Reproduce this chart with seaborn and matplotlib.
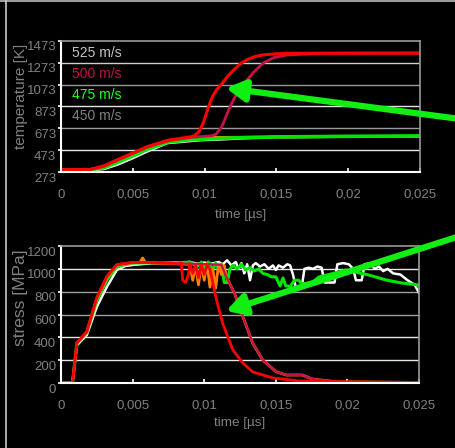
import matplotlib
matplotlib.use("Agg")
import matplotlib.pyplot as plt
import matplotlib.transforms as mtransforms
from matplotlib.patches import FancyArrowPatch
import seaborn as sns
from matplotlib.lines import Line2D

# ---------------- data ----------------
x_ticks = [0, 0.005, 0.01, 0.015, 0.02, 0.025]
x_tick_labels = ["0", "0,005", "0,01", "0,015", "0,02", "0,025"]
temp_ticks = [273, 473, 673, 873, 1073, 1273, 1473]
stress_ticks = [0, 200, 400, 600, 800, 1000, 1200]
legend_labels = ["525 m/s", "500 m/s", "475 m/s", "450 m/s"]
legend_colors = ["#c4c4c4", "#c01048", "#22ff22", "#808080"]

# temperature curves
temp_white_t = [0, 0.0022, 0.003, 0.004, 0.005, 0.006, 0.0074, 0.0097, 0.011, 0.013, 0.015, 0.02, 0.025]
temp_white_v = [292, 292, 302, 345, 401, 462, 539, 566, 572, 585, 594, 598, 600]
temp_green_t = [0, 0.002, 0.003, 0.004, 0.005, 0.006, 0.0075, 0.009, 0.01, 0.012, 0.015, 0.02, 0.025]
temp_green_v = [293, 293, 312, 365, 420, 480, 548, 568, 575, 585, 594, 600, 603]
temp_orange_t = [0, 0.002, 0.003, 0.004, 0.005, 0.006, 0.0075, 0.009, 0.011, 0.015, 0.02, 0.025]
temp_orange_v = [293, 294, 322, 380, 438, 495, 558, 585, 590, 594, 598, 600]
temp_crimson_t = [0, 0.002, 0.003, 0.004, 0.005, 0.006, 0.0075, 0.009, 0.0105, 0.0108, 0.0112,
                  0.01177, 0.01223, 0.0127, 0.0134, 0.01407, 0.0148, 0.01574, 0.01804, 0.025]
temp_crimson_v = [293, 294, 325, 385, 442, 500, 560, 590, 605, 620, 688,
                  871, 990, 1075, 1185, 1271, 1320, 1345, 1360, 1362]
temp_red_t = [0, 0.002, 0.003, 0.004, 0.005, 0.006, 0.0075, 0.009, 0.0093, 0.0096, 0.0099, 0.0102,
              0.0105, 0.0108, 0.0112, 0.0116, 0.012, 0.0125, 0.013, 0.0135, 0.014, 0.015, 0.016,
              0.02, 0.025]
temp_red_v = [293, 295, 330, 390, 447, 505, 566, 594, 605, 640, 720, 840,
              950, 1020, 1080, 1150, 1205, 1265, 1305, 1330, 1345, 1356, 1360,
              1362, 1362]

# stress curves
stress_white_t = [0, 0.0008, 0.00111, 0.0018, 0.0025, 0.0032, 0.0039, 0.0045, 0.005, 0.006, 0.007,
                  0.008, 0.0085, 0.009, 0.0095, 0.01, 0.0105, 0.011, 0.0113, 0.0116, 0.0119, 0.0122,
                  0.0124, 0.0126, 0.0128, 0.013, 0.0132, 0.0134, 0.0136, 0.0139, 0.0142, 0.0145,
                  0.0148, 0.015, 0.0152, 0.0155, 0.0158, 0.016, 0.0162, 0.0164, 0.0168, 0.017,
                  0.0173, 0.0176, 0.0179, 0.0182, 0.0184, 0.0191, 0.0193, 0.0197, 0.0201, 0.0204,
                  0.0206, 0.021, 0.0212, 0.0216, 0.0219, 0.0222, 0.0225, 0.0228, 0.0232, 0.0237,
                  0.0242, 0.0247, 0.025]
stress_white_v = [0, 0, 330, 420, 666, 841, 990, 1025, 1034, 1045, 1050,
                  1055, 1050, 1060, 1045, 1055, 1045, 1060, 1040, 1075, 1030, 1060,
                  1000, 1050, 960, 1040, 900, 1030, 1050, 1020, 1040, 1000,
                  1030, 990, 1030, 1010, 1040, 1030, 950, 830, 830, 1000,
                  1010, 1000, 1020, 1010, 880, 880, 1040, 1050, 1040, 1000,
                  900, 900, 1040, 1050, 1000, 1020, 980, 1000, 960, 950,
                  900, 860, 790]
stress_green_t = [0, 0.0008, 0.00111, 0.0018, 0.0025, 0.0032, 0.0039, 0.005, 0.006, 0.007, 0.008,
                  0.009, 0.0095, 0.0098, 0.01, 0.0103, 0.0106, 0.0108, 0.011, 0.0112, 0.0114,
                  0.0116, 0.0118, 0.012, 0.0123, 0.0126, 0.0129, 0.0132, 0.0135, 0.0138, 0.0141,
                  0.0144, 0.0147, 0.015, 0.0153, 0.0155, 0.0157, 0.016, 0.0163, 0.0166, 0.0168,
                  0.0175, 0.018, 0.019, 0.0199, 0.0215, 0.0227, 0.0238, 0.025]
stress_green_v = [0, 0, 345, 440, 720, 900, 1020, 1050, 1052, 1048, 1050,
                  1060, 1020, 1060, 1000, 1060, 990, 1050, 1000, 1040, 880,
                  880, 1000, 1030, 1000, 1040, 990, 1010, 980, 1000, 960,
                  950, 930, 930, 850, 920, 850, 845, 900, 900, 870,
                  876, 928, 960, 990, 946, 902, 876, 858]
stress_orange_t = [0, 0.0008, 0.00111, 0.0018, 0.0025, 0.0032, 0.0039, 0.005, 0.0055, 0.0057, 0.0059,
                   0.007, 0.008, 0.009, 0.0092, 0.0094, 0.0096, 0.0098, 0.01, 0.0102, 0.0104, 0.0106,
                   0.0108, 0.011, 0.0112, 0.0114, 0.01154, 0.01212, 0.0127, 0.01339, 0.01409,
                   0.01502, 0.01572, 0.01685, 0.01755, 0.01922, 0.025]
stress_orange_v = [0, 0, 350, 445, 740, 925, 1030, 1054, 1055, 1095, 1055,
                   1050, 1045, 1040, 900, 1030, 860, 1040, 900, 1050, 840, 1000,
                   830, 1040, 950, 1030, 931, 785, 581, 347, 201,
                   99, 70, 70, 35, 11, 5]
stress_crimson_t = [0, 0.0008, 0.00111, 0.0018, 0.0025, 0.0032, 0.0039, 0.005, 0.007, 0.009, 0.0105,
                    0.0112, 0.01154, 0.01212, 0.0127, 0.01339, 0.01409, 0.01502, 0.01572, 0.01685,
                    0.01755, 0.01922, 0.025]
stress_crimson_v = [0, 0, 350, 447, 745, 929, 1034, 1054, 1050, 1045, 1040,
                    1035, 931, 785, 581, 347, 201, 99, 70, 70,
                    35, 11, 5]
stress_red_t = [0, 0.0008, 0.00111, 0.0018, 0.0025, 0.0032, 0.0039, 0.005, 0.006, 0.007, 0.008,
                0.0082, 0.0084, 0.0085, 0.0087, 0.0089, 0.009, 0.0092, 0.0094, 0.0096, 0.0098,
                0.01, 0.0102, 0.0104, 0.0106, 0.0108, 0.011, 0.0113, 0.0116, 0.012, 0.0127,
                0.0134, 0.0148, 0.0166, 0.02, 0.025]
stress_red_v = [0, 0, 352, 450, 750, 935, 1038, 1056, 1055, 1050, 1048,
                1040, 1050, 900, 880, 950, 1040, 960, 1030, 920, 1040,
                950, 1030, 1000, 880, 760, 660, 520, 420, 290, 175,
                96, 44, 18, 8, 5]

# ---------------- style ----------------
sns.set_theme(style="dark")
plt.rcParams["font.family"] = ["Liberation Sans", "DejaVu Sans"]
GREY = "#808080"

fig = plt.figure(figsize=(4.55, 4.48), dpi=100, facecolor="black")
ax1 = fig.add_axes([61 / 455, 1 - 172 / 448, (420 - 61) / 455, (172 - 41) / 448])
ax2 = fig.add_axes([61 / 455, 1 - 383 / 448, (419 - 61) / 455, (383 - 246) / 448])


def style_axes(ax, yticks, grid_colors, ylabel, ylabel_size, ylabel_y, xlabel_y):
    ax.set_facecolor("black")
    ax.set_xlim(0, 0.025)
    ax.set_ylim(yticks[0], yticks[-1])
    for yv, c in zip(yticks[1:-1], grid_colors):
        ax.axhline(yv, color=c, lw=1.0, zorder=0.5)
    ax.set_xticks(x_ticks)
    ax.set_xticklabels(x_tick_labels)
    ax.set_yticks(yticks)
    ax.set_yticklabels([str(v) for v in yticks])
    ax.tick_params(axis="x", direction="in", length=3, width=1.2, color="white",
                   labelcolor=GREY, labelsize=9.5, pad=12, bottom=True)
    ax.tick_params(axis="y", direction="out", length=2, width=1.2, color="white",
                   labelcolor=GREY, labelsize=9.5, pad=1.5, left=True)
    offset = mtransforms.ScaledTranslation(0, -5 / 100, fig.dpi_scale_trans)
    for lab in ax.get_yticklabels():
        lab.set_transform(lab.get_transform() + offset)
    for s in ["left", "bottom"]:
        ax.spines[s].set_color("white")
        ax.spines[s].set_linewidth(1.5)
    for s in ["top", "right"]:
        ax.spines[s].set_color("#999999")
        ax.spines[s].set_linewidth(1.2)
        ax.spines[s].set_visible(True)
    ax.set_xlabel("time [µs]", color=GREY, fontsize=9.7)
    ax.set_ylabel(ylabel, color=GREY, fontsize=ylabel_size)
    ax.yaxis.set_label_coords(-0.092, ylabel_y)
    ax.xaxis.set_label_coords(0.5, xlabel_y)
    ax.grid(False)


style_axes(ax1, temp_ticks, ["#e6e6e6", "#9a9a9a", "#e6e6e6", "#9a9a9a", "#d0d0d0"],
           "temperature [K]", 11, 0.58, -0.28)
style_axes(ax2, stress_ticks, ["#e6e6e6", "#e6e6e6", "#a0a0a0", "#a0a0a0", "#e6e6e6"],
           "stress [MPa]", 12.5, 0.62, -0.25)


def draw(ax, t, v, color, lw=2.0):
    sns.lineplot(x=t, y=v, ax=ax, color=color, lw=lw, estimator=None, sort=False, legend=False)


draw(ax1, temp_white_t, temp_white_v, "white")
draw(ax1, temp_orange_t, temp_orange_v, "#ff8000")
draw(ax1, temp_green_t, temp_green_v, "#00e600", 2.6)
draw(ax1, temp_crimson_t, temp_crimson_v, "#c81048", 2.0)
draw(ax1, temp_red_t, temp_red_v, "#ff0000", 2.2)

draw(ax2, stress_white_t, stress_white_v, "white", 1.8)
draw(ax2, stress_green_t, stress_green_v, "#00e600", 2.2)
draw(ax2, stress_orange_t, stress_orange_v, "#ff8000", 2.0)
draw(ax2, stress_crimson_t, stress_crimson_v, "#c81048", 1.6)
draw(ax2, stress_red_t, stress_red_v, "#ff0000", 2.0)

# text legend
for i, (lab, col) in enumerate(zip(legend_labels, legend_colors)):
    ax1.text(72 / 455, 1 - (53 + i * 21) / 448, lab, color=col, fontsize=10,
             transform=fig.transFigure, va="center", ha="left")

# arrows
arrow_kw = dict(arrowstyle="-|>,head_length=0.8,head_width=0.45", color="#11ee11", lw=4.5,
                shrinkA=0, shrinkB=0, mutation_scale=14)
fig.add_artist(FancyArrowPatch(
    (460 / 455, 1 - 119 / 448), (226 / 455, 1 - 88 / 448), transform=fig.transFigure, **arrow_kw))
fig.add_artist(FancyArrowPatch(
    (460 / 455, 1 - 236 / 448), (226 / 455, 1 - 311 / 448), transform=fig.transFigure, **arrow_kw))

# frame lines
fig.add_artist(Line2D([0, 1], [1 - 1.5 / 448, 1 - 1.5 / 448], transform=fig.transFigure, color="#9a9a9a", lw=1.5))
fig.add_artist(Line2D([5.5 / 455, 5.5 / 455], [0, 1], transform=fig.transFigure, color="#c8c8c8", lw=1.2))

fig.savefig("out.png", dpi=100, facecolor="black")
